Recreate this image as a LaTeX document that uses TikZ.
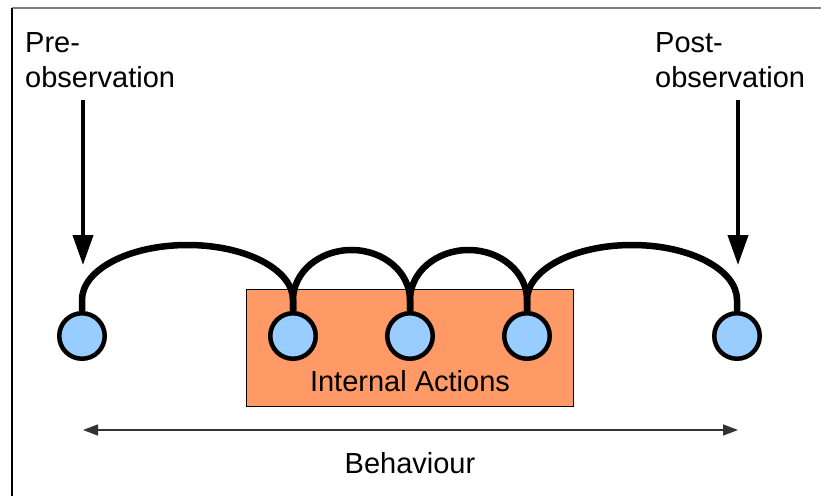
\documentclass[tikz,border=0pt]{standalone}
\usepackage{fontspec}
\setmainfont{Liberation Sans}
\usetikzlibrary{arrows.meta}
\definecolor{stateblue}{HTML}{99CCFF}
\definecolor{actorange}{HTML}{FF9966}
\definecolor{framegray}{HTML}{808080}
\begin{document}
\begin{tikzpicture}[x=1pt,y=1pt,
  labeltext/.style={font=\fontsize{29}{35}\selectfont, inner sep=0pt, align=left},
  state/.style={circle, draw=black, line width=4.5pt, fill=stateblue, minimum size=45.5pt, inner sep=0pt},
  hop/.style={line width=6.5pt, line cap=butt},
  obsarrow/.style={line width=4pt, -{Triangle[length=30pt,width=20pt]}},
  spanarrow/.style={line width=1.5pt, draw=black!80, {Triangle[length=15pt,width=11pt]}-{Triangle[length=15pt,width=11pt]}},
  actionbox/.style={draw=black, line width=1pt, fill=actorange, minimum width=327pt, minimum height=117pt, inner sep=0pt}]
  \useasboundingbox (0,0) rectangle (821,496);

  % frame edges
  \draw[line width=2pt, framegray] (12,488) -- (821,488);
  \draw[line width=2pt, black] (12,0) -- (12,488);

  % box of internal actions
  \node[actionbox] (actions) at (409.5,148.5) {};
  \node[labeltext, anchor=base] (actlabel) at (410,105) {Internal Actions};

  % states
  \node[state] (c1) at (82,160) {};
  \node[state] (c2) at (293,160) {};
  \node[state] (c3) at (410,160) {};
  \node[state] (c4) at (527,160) {};
  \node[state] (c5) at (737,160) {};

  % transitions between states
  \draw[hop] (c1.north) -- ++(0,11) arc[start angle=180,end angle=0,x radius=105.5,y radius=55] -- (c2.north);
  \draw[hop] (c2.north) -- ++(0,11) arc[start angle=180,end angle=0,x radius=58.5,y radius=50] -- (c3.north);
  \draw[hop] (c3.north) -- ++(0,11) arc[start angle=180,end angle=0,x radius=58.5,y radius=50] -- (c4.north);
  \draw[hop] (c4.north) -- ++(0,11) arc[start angle=180,end angle=0,x radius=105,y radius=55] -- (c5.north);

  % observation labels and arrows
  \node[labeltext, anchor=base west] (pre) at (25,408) {Pre-\\observation};
  \node[labeltext, anchor=base west] (post) at (655,408) {Post-\\observation};
  \coordinate (preTop) at (83,396);
  \coordinate (preTip) at (83,231);
  \coordinate (postTop) at (738,396);
  \coordinate (postTip) at (738,231);
  \draw[obsarrow] (preTop) -- (preTip);
  \draw[obsarrow] (postTop) -- (postTip);

  % extent of the behaviour
  \coordinate (behL) at (83,66);
  \coordinate (behR) at (738,66);
  \draw[spanarrow] (behL) -- (behR);
  \node[labeltext, anchor=base] (beh) at (410,23) {Behaviour};
\end{tikzpicture}
\end{document}
